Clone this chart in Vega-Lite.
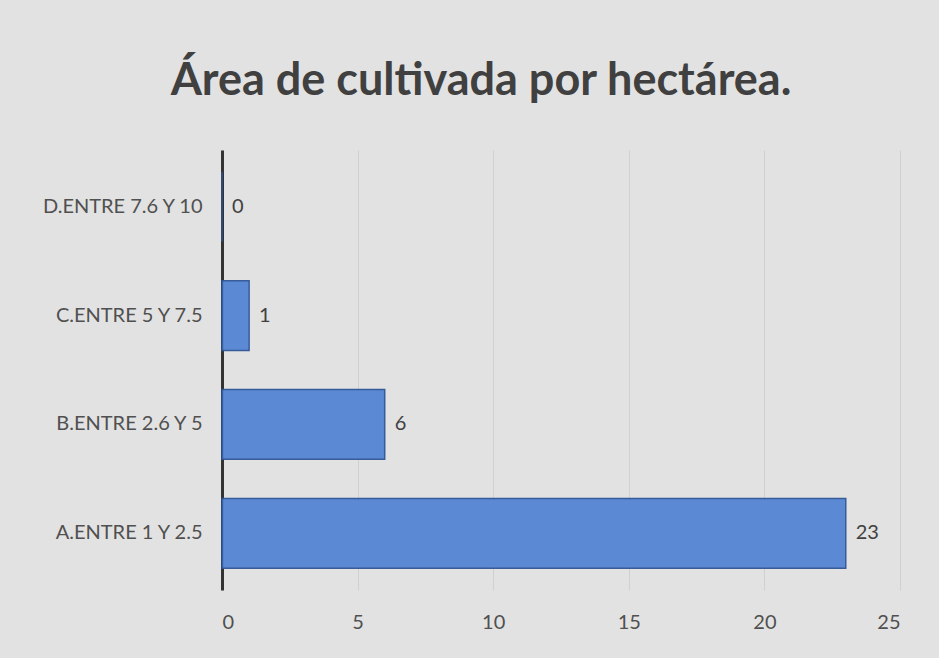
{
  "$schema": "https://vega.github.io/schema/vega-lite/v6.json",
  "autosize": "none",
  "width": 678,
  "height": 440,
  "padding": {"left": 222, "top": 150, "right": 39, "bottom": 68},
  "background": "#e2e2e2",
  "title": {
    "text": "Área de cultivada por hectárea.",
    "fontSize": 45,
    "font": "Lato",
    "fontWeight": "bold",
    "color": "#404040",
    "anchor": "middle",
    "dx": -80,
    "offset": 46
  },
  "data": {
    "values": [
      {"categoria": "D.ENTRE 7.6 Y 10", "valor": 0},
      {"categoria": "C.ENTRE 5 Y 7.5", "valor": 1},
      {"categoria": "B.ENTRE 2.6 Y 5", "valor": 6},
      {"categoria": "A.ENTRE 1 Y 2.5", "valor": 23}
    ]
  },
  "encoding": {
    "y": {
      "field": "categoria",
      "type": "nominal",
      "sort": null,
      "scale": {"paddingInner": 0.36, "paddingOuter": 0.2},
      "axis": {
        "title": null,
        "labelFont": "Lato",
        "labelFontSize": 20,
        "labelColor": "#505050",
        "labelPadding": 20,
        "ticks": false,
        "domainColor": "#333333",
        "domainWidth": 3,
        "grid": false
      }
    },
    "x": {
      "field": "valor",
      "type": "quantitative",
      "scale": {"domain": [0, 25], "nice": false},
      "axis": {
        "title": null,
        "values": [0, 5, 10, 15, 20, 25],
        "labelFont": "Lato",
        "labelFontSize": 20,
        "labelColor": "#505050",
        "labelPadding": 22,
        "ticks": false,
        "domain": false,
        "grid": true,
        "gridColor": "#d0d0d0",
        "gridWidth": 1
      }
    }
  },
  "layer": [
    {
      "mark": {"type": "bar", "color": "#5585d3", "stroke": "#2f5597", "strokeWidth": 1.5, "opacity": 0.95}
    },
    {
      "mark": {"type": "text", "align": "left", "dx": 10, "font": "Lato", "fontSize": 20, "color": "#404040"},
      "encoding": {"text": {"field": "valor", "type": "quantitative"}}
    }
  ],
  "config": {"view": {"stroke": null}}
}
